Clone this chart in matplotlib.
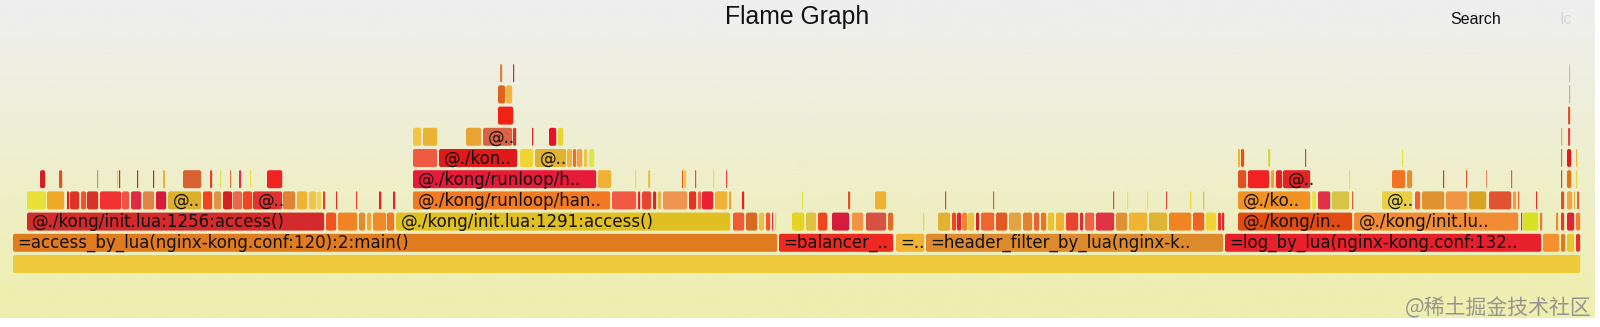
import numpy as np
import matplotlib
matplotlib.use("Agg")
import matplotlib.pyplot as plt
from matplotlib.patches import FancyBboxPatch
from matplotlib.colors import to_rgb

# frames per stack level: (start sample, end sample, label)
level0_frames = [(13, 1581, "")]
level0_colors = ["#eec93c"]

level1_frames = [
    (13, 778, "=access_by_lua(nginx-kong.conf:120):2:main()"),
    (779, 894, "=balancer_.."), (896, 925, "=.."),
    (926, 1224, "=header_filter_by_lua(nginx-k.."),
    (1225, 1542, "=log_by_lua(nginx-kong.conf:132.."),
    (1543, 1560, ""), (1561, 1566, ""), (1567, 1575, ""), (1576, 1581, ""),
]
level1_colors = ["#e07b1f", "#ec2a22", "#f2b234", "#dd8a2c", "#e8202c",
                 "#f5902e", "#dc7a1e", "#e6c632", "#e8302a"]

level2_frames = [
    (27, 325, "@./kong/init.lua:1256:access()"),
    (326, 337, ""), (338, 358, ""), (359, 366, ""), (367, 372, ""), (373, 387, ""), (387, 395, ""),
    (396, 731, "@./kong/init.lua:1291:access()"),
    (733, 745, ""), (746, 758, ""), (759, 765, ""), (766, 771, ""), (772, 774, ""), (775, 777, ""),
    (792, 805, ""), (806, 817, ""), (818, 828, ""), (832, 850, ""), (852, 864, ""), (866, 887, ""),
    (888, 894, ""), (923, 925, ""),
    (938, 951, ""), (952, 957, ""), (957, 962, ""), (962, 968, ""), (968, 975, ""), (976, 980, ""),
    (981, 995, ""), (996, 1008, ""), (1009, 1022, ""), (1023, 1033, ""), (1034, 1040, ""),
    (1041, 1047, ""), (1048, 1055, ""), (1056, 1065, ""), (1066, 1079, ""), (1080, 1084, ""),
    (1085, 1095, ""), (1096, 1115, ""), (1116, 1128, ""), (1129, 1148, ""), (1149, 1168, ""),
    (1169, 1192, ""), (1193, 1205, ""), (1206, 1217, ""), (1218, 1222, ""), (1222, 1225, ""),
    (1238, 1353, "@./kong/in.."),
    (1354, 1519, "@./kong/init.lu.."),
    (1521, 1523, ""), (1523, 1539, ""), (1540, 1543, ""),
    (1556, 1559, ""), (1561, 1565, ""), (1567, 1575, ""), (1576, 1581, ""),
]
level2_colors = [
    "#d42a2c",
    "#f05422", "#f08424", "#e08c34", "#f0a634", "#f08a2a", "#e87a28",
    "#dfc020",
    "#f05a34", "#d86a22", "#e8c044", "#f05232", "#e83232", "#f0d444",
    "#e6d422", "#dfc244", "#f04422", "#d41c3c", "#f29444", "#d85244",
    "#e06c22", "#eed444",
    "#dfb232", "#f04422", "#e82232", "#f08232", "#e8c444", "#d82222",
    "#f06432", "#e05a22", "#e0a444", "#e08232", "#e86232",
    "#f07222", "#e8c432", "#f0b232", "#e84432", "#d83232",
    "#f06444", "#e03444", "#e09232", "#f0b432", "#dfb432",
    "#f08422", "#f06422", "#f0d434", "#e83422", "#e02a2a",
    "#e24c12",
    "#f28c34",
    "#e02a2a", "#d8e022", "#e87a2a",
    "#e09232", "#e04022", "#e02438", "#f08030",
]

level3_frames = [
    (27, 47, ""), (47, 65, ""), (67, 70, ""), (70, 80, ""), (81, 87, ""), (87, 99, ""),
    (100, 122, ""), (122, 130, ""), (131, 142, ""), (143, 155, ""), (156, 167, ""),
    (168, 202, "@.."), (203, 213, ""), (214, 222, ""), (223, 233, ""), (233, 243, ""),
    (243, 253, ""), (253, 283, "@.."), (283, 296, ""), (297, 308, ""), (309, 317, ""),
    (317, 322, ""), (323, 326, ""),
    (336, 338, ""), (356, 358, ""), (379, 382, ""), (393, 396, ""),
    (413, 611, "@./kong/runloop/han.."),
    (612, 637, ""), (638, 641, ""), (642, 652, ""), (653, 657, ""), (658, 662, ""), (663, 688, ""),
    (689, 697, ""), (698, 702, ""), (702, 714, ""), (715, 728, ""), (729, 732, ""),
    (742, 745, ""), (802, 804, ""), (848, 851, ""), (875, 887, ""),
    (945, 947, ""), (993, 995, ""), (1113, 1115, ""), (1127, 1129, ""), (1147, 1149, ""),
    (1166, 1168, ""), (1190, 1192, ""), (1203, 1205, ""),
    (1238, 1311, "@./ko.."),
    (1312, 1317, ""), (1318, 1331, ""), (1332, 1350, ""), (1352, 1354, ""),
    (1382, 1413, "@.."),
    (1415, 1421, ""), (1422, 1445, ""), (1446, 1468, ""), (1469, 1487, ""), (1489, 1512, ""),
    (1513, 1517, ""), (1518, 1520, ""), (1536, 1538, ""),
    (1561, 1565, ""), (1567, 1573, ""), (1574, 1576, ""), (1577, 1580, ""),
]
level3_colors = [
    "#e8e034", "#f0aa2a", "#d82222", "#e03222", "#f05234", "#d8322a",
    "#f03232", "#f05444", "#e02a44", "#e08444", "#d81a3a",
    "#dcb02a", "#f04422", "#e09444", "#d82020", "#e86a4a",
    "#f04422", "#e03232", "#e08232", "#f0b232", "#f0c444",
    "#f0d454", "#e04422",
    "#e03222", "#e04422", "#e02222", "#e02232",
    "#f27a22",
    "#f05a44", "#e02232", "#e84432", "#e02222", "#e8b444", "#f09452",
    "#e83222", "#f06444", "#e82232", "#f0b232", "#f0a232",
    "#e02222", "#e0e044", "#e05222", "#f0b232",
    "#e04432", "#e85444", "#e04444", "#e0e454", "#e8e444",
    "#e04444", "#f0d444", "#d8c444",
    "#f29222",
    "#e8e444", "#e03244", "#d8c444", "#e06232",
    "#e8d044",
    "#f06232", "#e09232", "#f09444", "#d8a422", "#e05232",
    "#f0a232", "#e06232", "#e03232",
    "#e05222", "#f0a444", "#e8b444", "#e06232",
]

level4_frames = [
    (40, 46, ""), (59, 63, ""), (97, 99, ""), (117, 119, ""), (119, 121, ""), (137, 139, ""),
    (153, 155, ""), (163, 166, ""), (183, 202, ""), (210, 213, ""), (220, 222, ""),
    (230, 232, ""), (239, 242, ""), (250, 252, ""), (267, 283, ""),
    (413, 597, "@./kong/runloop/h.."), (598, 612, ""),
    (635, 637, ""), (648, 651, ""), (682, 684, ""), (684, 687, ""), (695, 697, ""),
    (713, 715, ""), (726, 728, ""),
    (1238, 1247, ""), (1248, 1270, ""), (1271, 1275, ""), (1276, 1283, ""), (1283, 1311, "@.."),
    (1349, 1351, ""), (1392, 1406, ""), (1407, 1413, ""),
    (1443, 1445, ""), (1466, 1468, ""), (1486, 1488, ""), (1511, 1513, ""),
    (1561, 1563, ""), (1567, 1572, ""), (1576, 1578, ""),
]
level4_colors = [
    "#d02222", "#e05222", "#e09232", "#e8d432", "#d82222", "#d02244",
    "#d82222", "#e8b432", "#d86232", "#e04422", "#e0e454",
    "#e07232", "#d83244", "#f0e444", "#f02222",
    "#e81a3a", "#f0b232",
    "#e0e444", "#e8c444", "#e05222", "#f0c444", "#e05232",
    "#e0e444", "#e04444",
    "#e05222", "#f02222", "#f0a232", "#e02222", "#e42424",
    "#e0e444", "#f07222", "#e09232",
    "#e03232", "#e05222", "#e09462", "#e06232",
    "#d04444", "#e07212", "#e8d444",
]

level5_frames = [
    (413, 438, ""), (439, 518, "@./kon.."), (520, 534, ""), (535, 567, "@.."),
    (567, 573, ""), (573, 577, ""), (577, 583, ""), (584, 588, ""), (589, 595, ""),
    (1238, 1241, ""), (1241, 1245, ""), (1268, 1271, ""), (1305, 1307, ""), (1402, 1404, ""),
    (1561, 1563, ""), (1567, 1572, ""), (1576, 1578, ""),
]
level5_colors = [
    "#f05a42", "#e01a1a", "#f0d432", "#e0b232",
    "#f0b444", "#e07232", "#f0a444", "#f0c444", "#e0e444",
    "#f0b232", "#e05222", "#d8d444", "#e04422", "#e0e444",
    "#e06262", "#e01a1a", "#e8b444",
]

level6_frames = [
    (413, 422, ""), (423, 438, ""), (466, 482, ""), (483, 513, "@.."), (513, 517, ""),
    (532, 534, ""), (549, 557, ""), (558, 564, ""),
    (1561, 1563, ""), (1568, 1571, ""),
]
level6_colors = ["#f0c444", "#e8b432", "#e8a432", "#d86444", "#d83222",
                 "#e02232", "#e81222", "#e8d432",
                 "#e8a462", "#e04444"]

level7_frames = [(498, 514, ""), (1568, 1571, "")]
level7_colors = ["#f02212", "#e05232"]

level8_frames = [(498, 506, ""), (506, 513, ""), (1569, 1571, "")]
level8_colors = ["#e06222", "#f0b444", "#e8a472"]

level9_frames = [(500, 503, ""), (513, 515, ""), (1569, 1571, "")]
level9_colors = ["#e08232", "#e02232", "#e8b4a0"]

levels = [
    (level0_frames, level0_colors), (level1_frames, level1_colors),
    (level2_frames, level2_colors), (level3_frames, level3_colors),
    (level4_frames, level4_colors), (level5_frames, level5_colors),
    (level6_frames, level6_colors), (level7_frames, level7_colors),
    (level8_frames, level8_colors), (level9_frames, level9_colors),
]

title = "Flame Graph"
watermark = "@稀土掘金技术社区"

W, H = 1600, 327
PITCH = 21.2        # px per stack level
BAR_H = 18 / PITCH  # bar height in level units
BASE = 273          # pixel row of level 0 bottom

fig = plt.figure(figsize=(W / 100, H / 100), dpi=100)
fig.patch.set_facecolor("white")

# background gradient
bg = fig.add_axes([0, 0, 1, 1])
bg.set_xlim(0, W)
bg.set_ylim(H, 0)
bg.axis("off")
top, bot = np.array(to_rgb("#eeeeee")), np.array(to_rgb("#eeeeb0"))
t = np.clip((np.linspace(0, 1, 300) - 0.05) / 0.9, 0, 1)[:, None]
grad = top * (1 - t) + bot * t
bg.imshow(grad[:, None, :], extent=(0, 1595, 318, 0), aspect="auto", zorder=0)

# flame axes: x in samples, y in stack levels
ax = fig.add_axes([0, 0, 1, 1])
ax.set_facecolor("none")
ax.set_xlim(0, W)
ax.set_ylim((BASE - H) / PITCH, BASE / PITCH)
ax.axis("off")

for lev, (frames, colors) in enumerate(levels):
    for (x0, x1, label), c in zip(frames, colors):
        w = max(x1 - x0 - 0.8, 1.0)
        rs = min(2.0, w / 2)
        box = FancyBboxPatch((x0, lev), w, BAR_H,
                             boxstyle=f"round,pad=0,rounding_size={rs}",
                             mutation_aspect=1 / PITCH,
                             facecolor=c, edgecolor="none", zorder=2)
        ax.add_patch(box)
        if label:
            ax.text(x0 + 4.5, lev + BAR_H * 0.47, label, fontsize=12,
                    family="DejaVu Sans", color="#111111",
                    ha="left", va="center", zorder=3)

fig.text(797 / W, 1 - 17 / H, title, fontsize=17.8, family="Liberation Sans",
         ha="center", va="center", color="#111111")
fig.text(1476 / W, 1 - 19 / H, "Search", fontsize=11.5, family="Liberation Sans",
         ha="center", va="center", color="#111111")
fig.text(1566 / W, 1 - 19 / H, "Ic", fontsize=11.5, family="Liberation Sans",
         ha="center", va="center", color="#d6d6d6")
fig.text(1592 / W, 1 - 308 / H, watermark, fontsize=15,
         family=["Noto Sans CJK SC", "DejaVu Sans"],
         ha="right", va="center", color="#8c8c8c", alpha=0.9)

fig.savefig("out.png", dpi=100)
